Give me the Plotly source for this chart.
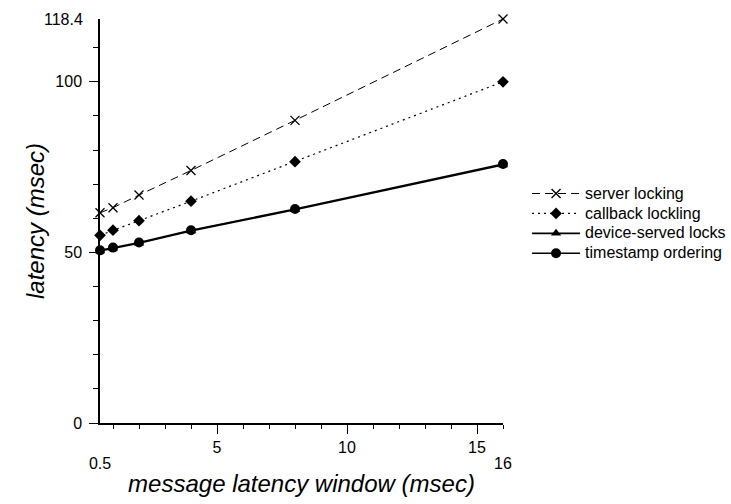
import plotly.graph_objects as go

# Message latency window (msec) and measured latency (msec) per protocol
window_ms = [0.5, 1, 2, 4, 8, 16]
server_locking = [61.6, 63.1, 66.8, 74.0, 88.7, 118.4]
callback_locking = [55.0, 56.5, 59.3, 65.0, 76.6, 100.0]
device_served_locks = [50.4, 51.2, 52.7, 56.3, 62.5, 75.6]
timestamp_ordering = [50.6, 51.4, 52.9, 56.5, 62.7, 75.9]

series_names = ["server locking", "callback lockling", "device-served locks", "timestamp ordering"]

# Tick positions and labels
x_major_ticks = [5, 10, 15]
x_minor_ticks = list(range(1, 17))
x_end_ticks = [0.5, 16]
x_end_labels = ["<br>0.5", "<br>16"]
y_major_ticks = [0, 50, 100]
y_minor_ticks = list(range(10, 120, 10))
y_top_tick = [118.4]
y_top_label = ["118.4"]

x_range = [0.5, 16]
y_range = [0, 118.4]

FONT = "Liberation Sans, Arial, sans-serif"

fig = go.Figure()

styles = [
    dict(dash="8px,5px", width=1, symbol="x-thin-open", size=9, mline=1.3),
    dict(dash="2px,4px", width=1.2, symbol="diamond", size=9, mline=0),
    dict(dash="solid", width=1.6, symbol="triangle-up", size=9, mline=0),
    dict(dash="solid", width=1.6, symbol="circle", size=10, mline=0),
]
values = [server_locking, callback_locking, device_served_locks, timestamp_ordering]

for name, ys, st in zip(series_names, values, styles):
    fig.add_trace(go.Scatter(
        x=window_ms, y=ys, mode="lines+markers",
        name=f'<span style="font-size:16px">{name}</span>',
        line=dict(color="black", width=st["width"], dash=st["dash"]),
        marker=dict(symbol=st["symbol"], size=st["size"], color="black",
                    line=dict(color="black", width=st["mline"])),
        cliponaxis=False,
    ))

# Empty traces so the secondary label axes (end labels) get drawn
fig.add_trace(go.Scatter(x=[], y=[], xaxis="x2", yaxis="y", showlegend=False, hoverinfo="skip"))
fig.add_trace(go.Scatter(x=[], y=[], xaxis="x", yaxis="y2", showlegend=False, hoverinfo="skip"))

axis_font = dict(family=FONT, size=16, color="black")
title_font = dict(family=FONT, size=24, color="black")

fig.update_layout(
    width=731, height=504,
    margin=dict(l=100, r=228, t=19, b=81),
    paper_bgcolor="white", plot_bgcolor="white",
    font=dict(family=FONT, color="black"),
    showlegend=True,
    legend=dict(
        xref="container", x=0.721, y=0.605, xanchor="left", yanchor="top",
        font=dict(family=FONT, size=13, color="black"),
        tracegroupgap=0, itemwidth=48, bgcolor="rgba(0,0,0,0)",
    ),
    xaxis=dict(
        range=x_range, showgrid=False, zeroline=False, automargin=False,
        showline=True, linecolor="black", linewidth=1.5,
        tickmode="array", tickvals=x_major_ticks, ticktext=[str(v) for v in x_major_ticks],
        ticks="outside", ticklen=9, tickwidth=1.3, tickcolor="black",
        tickfont=axis_font,
        minor=dict(tickmode="array", tickvals=x_minor_ticks, ticks="outside",
                   ticklen=4, tickwidth=1.3, tickcolor="black"),
        title=dict(text="<i>message latency window (msec)</i>", font=title_font, standoff=20),
    ),
    xaxis2=dict(
        overlaying="x", matches="x", anchor="y", side="bottom", automargin=False,
        range=x_range, showgrid=False, zeroline=False, showline=False,
        tickmode="array", tickvals=x_end_ticks, ticktext=x_end_labels,
        ticks="outside", ticklen=5, tickcolor="rgba(0,0,0,0)",
        tickfont=axis_font,
    ),
    yaxis=dict(
        range=y_range, showgrid=False, zeroline=False, automargin=False,
        showline=True, linecolor="black", linewidth=1.5,
        tickmode="array", tickvals=y_major_ticks, ticktext=[str(v) for v in y_major_ticks],
        ticks="outside", ticklen=9, tickwidth=1.3, tickcolor="black",
        ticklabelstandoff=4,
        tickfont=axis_font,
        minor=dict(tickmode="array", tickvals=y_minor_ticks, ticks="outside",
                   ticklen=5, tickwidth=1.3, tickcolor="black"),
        title=dict(text="<i>latency (msec)</i>", font=title_font, standoff=4),
    ),
    yaxis2=dict(
        overlaying="y", matches="y", anchor="x", side="left", automargin=False,
        range=y_range, showgrid=False, zeroline=False, showline=False,
        tickmode="array", tickvals=y_top_tick, ticktext=y_top_label,
        ticks="outside", ticklen=9, tickcolor="rgba(0,0,0,0)",
        ticklabelstandoff=4,
        tickfont=axis_font,
    ),
)

fig.write_html("out.html")
